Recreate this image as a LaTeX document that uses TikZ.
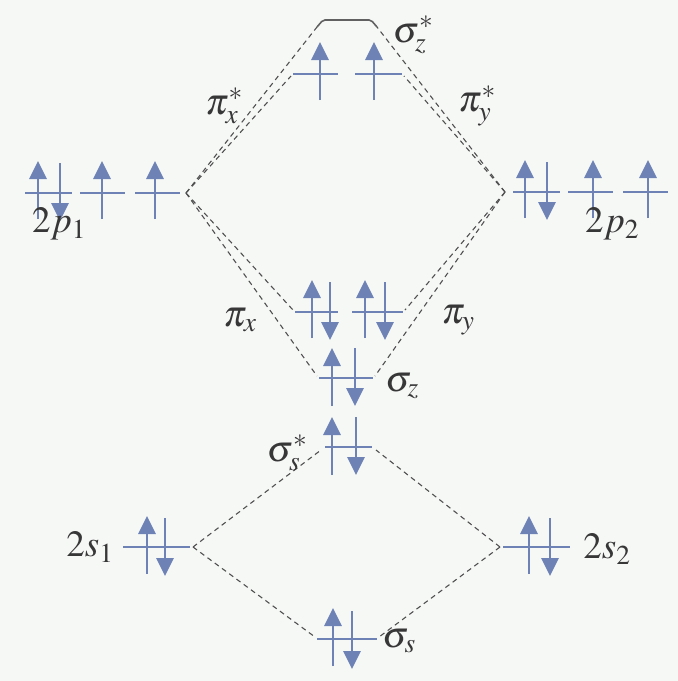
\documentclass[tikz,border=0pt]{standalone}
\usepackage{mathptmx}
\usetikzlibrary{arrows.meta}
\definecolor{orb}{RGB}{110,130,182}
\definecolor{dsh}{RGB}{80,80,80}
\definecolor{txt}{RGB}{55,55,55}
\definecolor{bgc}{RGB}{246,248,246}
\tikzset{
  level/.style={draw=orb, line width=2.8pt},
  emptylevel/.style={draw=dsh!90, line width=1.6pt, rounded corners=2pt},
  elec/.style={draw=orb, line width=2.8pt, -{Triangle[width=17pt,length=18pt]}},
  conn/.style={draw=dsh, line width=1.1pt, dash pattern=on 5pt off 4pt},
  lbl/.style={text=txt, inner sep=0pt, font=\fontsize{37}{44}\selectfont}
}
\newcommand{\eup}[2]{\draw[elec] (#1,#2+26) -- (#1,#2-32);}
\newcommand{\edn}[2]{\draw[elec] (#1,#2-30) -- (#1,#2+28);}
\begin{document}
\begin{tikzpicture}[x=1pt,y=-1pt]
\fill[bgc] (0,0) rectangle (678,681);
\useasboundingbox (0,0) rectangle (678,681);

% ---- level end coordinates ----
\coordinate (p1R) at (186,193);
\coordinate (p2L) at (505,192);
\coordinate (szsL) at (317,27);
\coordinate (szsR) at (377,27);
\coordinate (pxsL) at (291,76);
\coordinate (pysR) at (404,76);
\coordinate (pxL) at (293,310);
\coordinate (pyR) at (405,310);
\coordinate (szL) at (317,376);
\coordinate (szR) at (375,376);
\coordinate (sssL) at (321,450);
\coordinate (sssR) at (376,450);
\coordinate (s1R) at (193,547);
\coordinate (s2L) at (500,547);
\coordinate (ssL) at (315,637);
\coordinate (ssR) at (379,637);

% ---- connectors ----
\draw[conn] (p1R) -- (pxsL);
\draw[conn] (p1R) -- (szsL);
\draw[conn] (p1R) -- (pxL);
\draw[conn] (p1R) -- (szL);
\draw[conn] (p2L) -- (pysR);
\draw[conn] (p2L) -- (szsR);
\draw[conn] (p2L) -- (pyR);
\draw[conn] (p2L) -- (szR);
\draw[conn] (s1R) -- (sssL);
\draw[conn] (s1R) -- (ssL);
\draw[conn] (s2L) -- (sssR);
\draw[conn] (s2L) -- (ssR);

% ---- levels ----
% 2p1
\draw[level] (25,193) -- (72,193);
\draw[level] (80,193) -- (125,193);
\draw[level] (135,193) -- (180,193);
\eup{38}{193} \edn{60}{193} \eup{102}{193} \eup{155}{193}
% 2p2
\draw[level] (513,192) -- (560,192);
\draw[level] (568,192) -- (613,192);
\draw[level] (623,192) -- (668,192);
\eup{525}{192} \edn{547}{192} \eup{593}{192} \eup{648}{192}
% sigma_z*
\draw[emptylevel] (szsL) -- (323,20) -- (371,20) -- (szsR);
% pi*
\draw[level] (293,74) -- (338,74);
\draw[level] (355,74) -- (402,74);
\eup{320}{74} \eup{374}{74}
% pi
\draw[level] (295,312) -- (338,312);
\draw[level] (352,312) -- (403,312);
\eup{312}{312} \edn{330}{312} \eup{365}{312} \edn{385}{312}
% sigma_z
\draw[level] (319,378) -- (373,378);
\eup{332}{380} \edn{355}{378}
% sigma_s*
\draw[level] (325,447) -- (372,447);
\eup{332}{449} \edn{356}{447}
% 2s
\draw[level] (123,547) -- (190,547);
\eup{147}{548} \edn{165}{548}
\draw[level] (503,547) -- (570,547);
\eup{529}{548} \edn{550}{548}
% sigma_s
\draw[level] (317,639) -- (377,639);
\eup{333}{640} \edn{352}{641}

% ---- labels ----
\node[lbl] (Lszs) at (413,35) {$\sigma_z^*$};
\node[lbl] (Lpxs) at (224,106) {$\pi_x^*$};
\node[lbl] (Lpys) at (477,106) {$\pi_y^*$};
\node[lbl] (L2p1) at (59,224) {$2p_1$};
\node[lbl] (L2p2) at (612,224) {$2p_2$};
\node[lbl] (Lpx) at (240,320) {$\pi_x$};
\node[lbl] (Lpy) at (458,320) {$\pi_y$};
\node[lbl] (Lsz) at (402,386) {$\sigma_z$};
\node[lbl] (Lsss) at (287,453) {$\sigma_s^*$};
\node[lbl] (L2s1) at (90,547) {$2s_1$};
\node[lbl] (L2s2) at (607,549) {$2s_2$};
\node[lbl] (Lss) at (399,641) {$\sigma_s$};
\end{tikzpicture}
\end{document}
